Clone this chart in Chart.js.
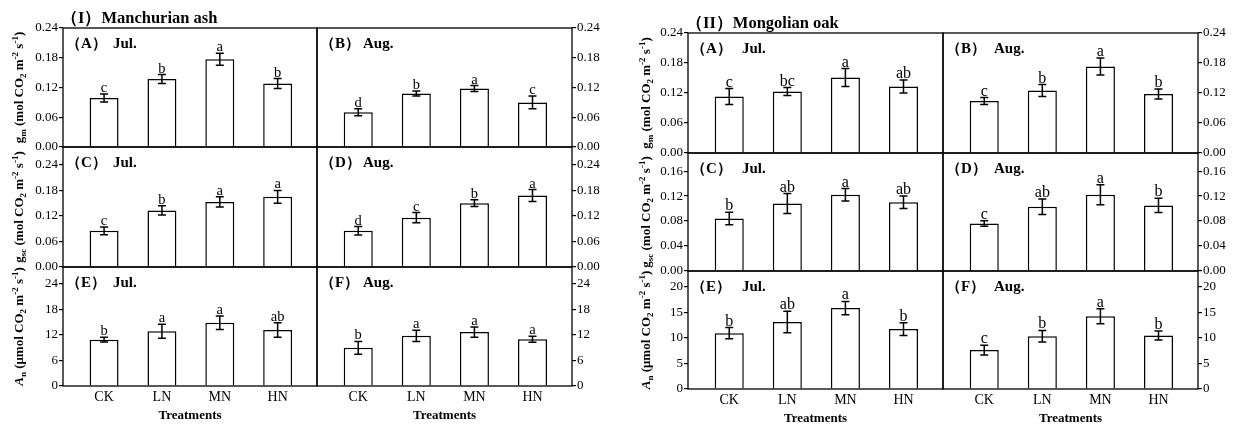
<!DOCTYPE html>
<html>
<head>
<meta charset="utf-8">
<script src="https://cdn.jsdelivr.net/npm/chart.js@4.4.1/dist/chart.umd.min.js"></script>
<style>
  body { margin: 0; background: #fff; width: 1238px; height: 426px; position: relative; overflow: hidden; }
</style>
</head>
<body>
<script>
const treatments = ['CK', 'LN', 'MN', 'HN'];
const months = ['Jul.', 'Aug.'];
const tags = [['A', 'B'], ['C', 'D'], ['E', 'F']];

// (I) Manchurian ash
const ashGmJul = [0.099, 0.137, 0.177, 0.128];
const ashGmJulSe = [0.008, 0.009, 0.012, 0.010];
const ashGmJulSig = ['c', 'b', 'a', 'b'];
const ashGmAug = [0.070, 0.108, 0.118, 0.090];
const ashGmAugSe = [0.007, 0.005, 0.006, 0.013];
const ashGmAugSig = ['d', 'b', 'a', 'c'];
const ashGscJul = [0.085, 0.133, 0.153, 0.165];
const ashGscJulSe = [0.009, 0.011, 0.012, 0.015];
const ashGscJulSig = ['c', 'b', 'a', 'a'];
const ashGscAug = [0.085, 0.116, 0.150, 0.168];
const ashGscAugSe = [0.010, 0.012, 0.008, 0.014];
const ashGscAugSig = ['d', 'c', 'b', 'a'];
const ashAnJul = [10.9, 12.9, 14.9, 13.2];
const ashAnJulSe = [0.55, 1.65, 1.6, 1.7];
const ashAnJulSig = ['b', 'a', 'a', 'ab'];
const ashAnAug = [9.0, 11.8, 12.7, 11.0];
const ashAnAugSe = [1.5, 1.3, 1.2, 0.7];
const ashAnAugSig = ['b', 'a', 'a', 'a'];

// (II) Mongolian oak
const oakGmJul = [0.113, 0.123, 0.151, 0.133];
const oakGmJulSe = [0.016, 0.008, 0.018, 0.013];
const oakGmJulSig = ['c', 'bc', 'a', 'ab'];
const oakGmAug = [0.104, 0.125, 0.173, 0.118];
const oakGmAugSe = [0.007, 0.012, 0.017, 0.010];
const oakGmAugSig = ['c', 'b', 'a', 'b'];
const oakGscJul = [0.084, 0.108, 0.122, 0.110];
const oakGscJulSe = [0.010, 0.016, 0.010, 0.010];
const oakGscJulSig = ['b', 'ab', 'a', 'ab'];
const oakGscAug = [0.076, 0.103, 0.122, 0.105];
const oakGscAugSe = [0.0045, 0.0125, 0.016, 0.0115];
const oakGscAugSig = ['c', 'ab', 'a', 'b'];
const oakAnJul = [10.9, 13.1, 15.8, 11.7];
const oakAnJulSe = [1.1, 2.1, 1.3, 1.25];
const oakAnJulSig = ['b', 'ab', 'a', 'b'];
const oakAnAug = [7.6, 10.3, 14.2, 10.45];
const oakAnAugSe = [0.97, 1.13, 1.46, 0.9];
const oakAnAugSig = ['c', 'b', 'a', 'b'];

// tick values
const gTicks6 = [0, 0.06, 0.12, 0.18, 0.24];
const gTicks4 = [0, 0.04, 0.08, 0.12, 0.16];
const anTicks6 = [0, 6, 12, 18, 24];
const anTicks5 = [0, 5, 10, 15, 20];

// axis titles: [text, style]
const gmTitle = [['g'], ['m', 'sub'], [' (mol CO'], ['2', 'sub'], [' m'], ['-2', 'sup'], [' s'], ['-1', 'sup'], [')']];
const gscTitle = [['g'], ['sc', 'sub'], [' (mol CO'], ['2', 'sub'], [' m'], ['-2', 'sup'], [' s'], ['-1', 'sup'], [')']];
const anTitle = [['A', 'it'], ['n', 'sub'], [' (\u03bcmol CO'], ['2', 'sub'], [' m'], ['-2', 'sup'], [' s'], ['-1', 'sup'], [')']];

const SERIF = "'Liberation Serif', 'Times New Roman', serif";
Chart.defaults.font.family = SERIF;
Chart.defaults.color = '#000';

const ash = {
    name: '\uff08I\uff09Manchurian ash', cols: [63, 317, 572], rows: [28, 147, 267, 386],
    padLeft: 63, yTitleX: 20, titleGap: 3, monthX: [50, 46], letterSize: 14.5,
    rowAxes: [
        { title: gmTitle, ticks: gTicks6, max: 0.24, dec: 2, sets: [[ashGmJul, ashGmJulSe, ashGmJulSig], [ashGmAug, ashGmAugSe, ashGmAugSig]] },
        { title: gscTitle, ticks: gTicks6, max: 0.282, dec: 2, sets: [[ashGscJul, ashGscJulSe, ashGscJulSig], [ashGscAug, ashGscAugSe, ashGscAugSig]] },
        { title: anTitle, ticks: anTicks6, max: 28, dec: 0, sets: [[ashAnJul, ashAnJulSe, ashAnJulSig], [ashAnAug, ashAnAugSe, ashAnAugSig]] }
    ]
};
const oak = {
    name: '\uff08II\uff09Mongolian oak', cols: [688, 943, 1198], rows: [33, 153, 271, 389],
    padLeft: 88, yTitleX: 47, titleGap: 0, monthX: [54, 51], letterSize: 16,
    rowAxes: [
        { title: gmTitle, ticks: gTicks6, max: 0.24, dec: 2, sets: [[oakGmJul, oakGmJulSe, oakGmJulSig], [oakGmAug, oakGmAugSe, oakGmAugSig]] },
        { title: gscTitle, ticks: gTicks4, max: 0.189, dec: 2, sets: [[oakGscJul, oakGscJulSe, oakGscJulSig], [oakGscAug, oakGscAugSe, oakGscAugSig]] },
        { title: anTitle, ticks: anTicks5, max: 23.05, dec: 0, sets: [[oakAnJul, oakAnJulSe, oakAnJulSig], [oakAnAug, oakAnAugSe, oakAnAugSig]] }
    ]
};

function drawRich(ctx, segs, cx, cy, size) {
    const fontFor = s => {
        const small = s[1] === 'sub' || s[1] === 'sup';
        return (s[1] === 'it' ? 'italic ' : '') + 'bold ' + (small ? Math.round(size * 0.7) : size) + 'px ' + SERIF;
    };
    let total = 0;
    segs.forEach(s => { ctx.font = fontFor(s); total += ctx.measureText(s[0]).width; });
    ctx.save();
    ctx.translate(cx, cy);
    ctx.rotate(-Math.PI / 2);
    ctx.textBaseline = 'middle';
    ctx.textAlign = 'left';
    let x = -total / 2;
    segs.forEach(s => {
        ctx.font = fontFor(s);
        const dy = s[1] === 'sub' ? size * 0.3 : s[1] === 'sup' ? -size * 0.35 : 0;
        ctx.fillText(s[0], x, dy);
        x += ctx.measureText(s[0]).width;
    });
    ctx.restore();
}

function drawDeco(chart, info) {
    const ctx = chart.ctx, a = chart.chartArea, y = chart.scales.y;
    const meta = chart.getDatasetMeta(0);
    ctx.save();
    ctx.strokeStyle = '#000';
    ctx.fillStyle = '#000';
    // error bars + significance letters
    meta.data.forEach((bar, i) => {
        const v = info.values[i], e = info.errors[i];
        const yt = y.getPixelForValue(v + e), yb = y.getPixelForValue(v - e);
        ctx.lineWidth = 1.5;
        ctx.beginPath();
        ctx.moveTo(bar.x, yt); ctx.lineTo(bar.x, yb);
        ctx.moveTo(bar.x - 4, yt); ctx.lineTo(bar.x + 4, yt);
        ctx.moveTo(bar.x - 4, yb); ctx.lineTo(bar.x + 4, yb);
        ctx.stroke();
        ctx.font = info.letterSize + 'px ' + SERIF;
        ctx.textAlign = 'center';
        ctx.textBaseline = 'alphabetic';
        ctx.fillText(info.letters[i], bar.x, yt - 2);
    });
    // frame
    ctx.lineWidth = 1.3;
    ctx.strokeRect(a.left, a.top, a.right - a.left, a.bottom - a.top);
    // panel tag and month
    ctx.textBaseline = 'middle';
    ctx.textAlign = 'left';
    ctx.font = 'bold 15px ' + SERIF;
    ctx.fillText(info.tag, a.left + 3, a.top + 16);
    ctx.fillText(info.month, a.left + info.monthX, a.top + 16);
    // species title
    if (info.panelTitle) {
        ctx.font = 'bold 16.5px ' + SERIF;
        ctx.fillText(info.panelTitle, a.left - 2, a.top - 9);
    }
    if (info.yTitle) {
        drawRich(ctx, info.yTitle, info.yTitleX, (a.top + a.bottom) / 2, 13);
    }
    ctx.restore();
}

function makeCell(p, r, c) {
    const row = p.rowAxes[r];
    const x0 = p.cols[c], x1 = p.cols[c + 1], y0 = p.rows[r], y1 = p.rows[r + 1];
    const isBottom = r === 2, isLeft = c === 0;
    const padL = isLeft ? p.padLeft : 3;
    const padR = isLeft ? 3 : 40;
    const padT = r === 0 ? y0 : 2;
    const padB = isBottom ? 426 - y1 : 9;
    const w = x1 - x0 + padL + padR, h = y1 - y0 + padT + padB;

    const canvas = document.createElement('canvas');
    canvas.width = w;
    canvas.height = h;
    canvas.style.cssText = `position:absolute;left:${x0 - padL}px;top:${y0 - padT}px;width:${w}px;height:${h}px`;
    document.body.appendChild(canvas);

    const [vals, errs, sig] = row.sets[c];
    const info = {
        values: vals, errors: errs, letters: sig, letterSize: p.letterSize,
        tag: '\uff08' + tags[r][c] + '\uff09', month: months[c], monthX: p.monthX[c],
        panelTitle: (isLeft && r === 0) ? p.name : null,
        yTitle: isLeft ? row.title : null, yTitleX: p.yTitleX
    };

    new Chart(canvas, {
        type: 'bar',
        data: {
            datasets: [{
                data: vals.map((v, i) => ({ x: i, y: v })),
                backgroundColor: '#fff',
                borderColor: '#000',
                borderWidth: 1.5,
                barPercentage: 0.5,
                categoryPercentage: 1
            }]
        },
        options: {
            responsive: false,
            animation: false,
            events: [],
            layout: { padding: { left: isLeft ? 0 : padL, right: isLeft ? padR : 0, top: padT, bottom: isBottom ? 0 : padB } },
            plugins: { legend: { display: false }, tooltip: { enabled: false } },
            scales: {
                x: {
                    type: 'linear', min: -0.71, max: 3.68, offset: false, display: isBottom,
                    grid: { display: false, drawTicks: false, offset: false },
                    border: { display: false },
                    afterBuildTicks: s => { s.ticks = treatments.map((t, i) => ({ value: i })); },
                    afterFit: s => { if (isBottom) s.height = padB; s.paddingLeft = 0; s.paddingRight = 0; },
                    ticks: { callback: v => treatments[v], font: { size: 14 }, padding: 3, maxRotation: 0, autoSkip: false, color: '#000' },
                    title: { display: true, text: 'Treatments', font: { size: 13, weight: 'bold' }, padding: { top: 0, bottom: p.titleGap }, color: '#000' }
                },
                y: {
                    position: isLeft ? 'left' : 'right', min: 0, max: row.max,
                    afterBuildTicks: s => { s.ticks = row.ticks.map(v => ({ value: v })); },
                    afterFit: s => { s.width = isLeft ? padL : padR; s.paddingTop = 0; s.paddingBottom = 0; },
                    ticks: { callback: v => v.toFixed(row.dec), font: { size: 13 }, padding: 1, color: '#000' },
                    grid: { drawOnChartArea: false, drawTicks: true, tickLength: 4, color: '#000', lineWidth: 1.2 },
                    border: { display: false }
                }
            }
        },
        plugins: [{ id: 'deco', afterDatasetsDraw(chart) { drawDeco(chart, info); } }]
    });
}

[ash, oak].forEach(p => {
    [0, 1, 2].forEach(r => {
        [0, 1].forEach(c => makeCell(p, r, c));
    });
});
</script>
</body>
</html>
